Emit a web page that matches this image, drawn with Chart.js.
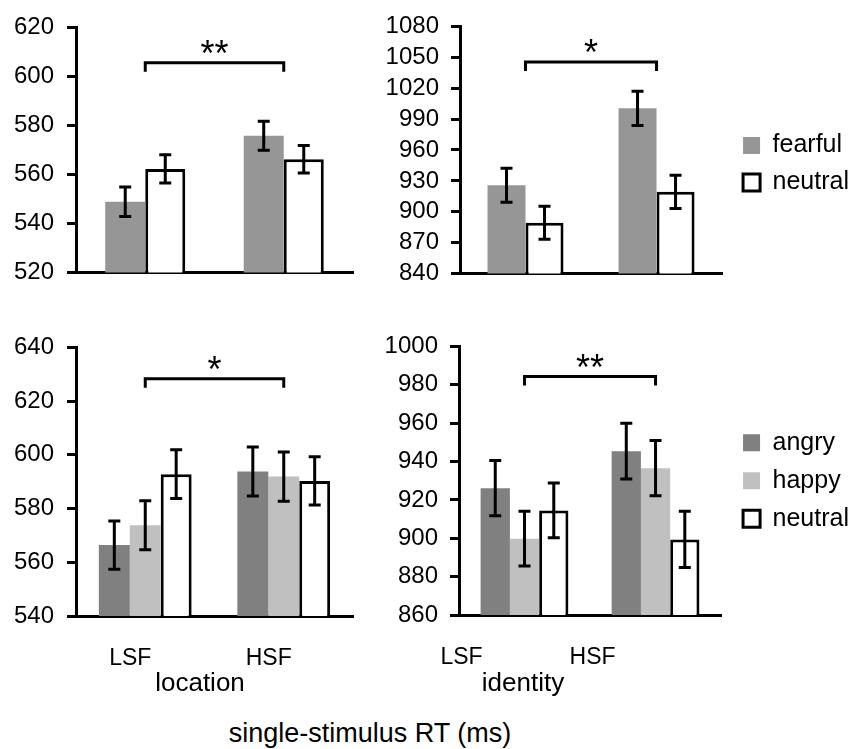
<!DOCTYPE html>
<html>
<head>
<meta charset="utf-8">
<script src="https://cdn.jsdelivr.net/npm/chart.js@4.4.1/dist/chart.umd.min.js"></script>
<style>
html, body { margin: 0; padding: 0; background: #fff; overflow: hidden; }
body { width: 852px; height: 749px; position: relative; font-family: "Liberation Sans", Arial, sans-serif; }
canvas { position: absolute; }
.cap { position: absolute; transform: translate(-50%, -50%); white-space: nowrap; color: #000; line-height: 1; }
</style>
</head>
<body>
<canvas id="locEmo" width="365" height="300" style="left:0;top:0"></canvas>
<!-- right-hand charts use a wide canvas so the legend is not squeezed -->
<canvas id="idEmo" width="800" height="300" style="left:59px;top:0"></canvas>
<canvas id="locExp" width="365" height="360" style="left:0;top:320px"></canvas>
<canvas id="idExp" width="800" height="360" style="left:59px;top:320px"></canvas>
<div class="cap" style="left:200px;top:682px;font-size:26px">location</div>
<div class="cap" style="left:523px;top:682px;font-size:26px">identity</div>
<div class="cap" style="left:370px;top:733px;font-size:27px">single-stimulus RT (ms)</div>
<script>
// categories
const freqs = ['LSF', 'HSF'];

// top row: fearful vs neutral
const locFearful = [548.9, 575.8];
const locFearfulErr = [6.0, 5.9];
const locNeutral = [562.3, 566.2];
const locNeutralErr = [5.8, 5.6];
const idFearful = [925.8, 1000.5];
const idFearfulErr = [16.5, 16.6];
const idNeutral = [889.3, 919.4];
const idNeutralErr = [16.0, 16.2];

// bottom row: angry / happy / neutral
const locAngry = [566.4, 593.8];
const locAngryErr = [9.0, 9.1];
const locHappy = [573.8, 591.9];
const locHappyErr = [9.1, 9.2];
const locNeutral3 = [592.8, 590.3];
const locNeutral3Err = [9.1, 9.0];
const idAngry = [926.1, 945.4];
const idAngryErr = [14.4, 14.5];
const idHappy = [899.8, 936.5];
const idHappyErr = [14.3, 14.4];
const idNeutral3 = [914.5, 899.4];
const idNeutral3Err = [14.3, 14.7];

// y tick labels
const locEmoTicks = [520, 540, 560, 580, 600, 620];
const idEmoTicks = [840, 870, 900, 930, 960, 990, 1020, 1050, 1080];
const locExpTicks = [540, 560, 580, 600, 620, 640];
const idExpTicks = [860, 880, 900, 920, 940, 960, 980, 1000];

// significance brackets LSF vs HSF
const sigText = ['**', '*', '*', '**'];
const sigAt = [605.6, 1045.5, 628.3, 984.3];

Chart.defaults.font.family = '"Liberation Sans", Arial, sans-serif';
Chart.defaults.color = '#000';

// error bars from dataset.errors
const errorBars = {
    id: 'errorBars',
    afterDatasetsDraw(chart) {
        const ctx = chart.ctx;
        const y = chart.scales.y;
        ctx.save();
        ctx.strokeStyle = '#000';
        ctx.lineWidth = 3;
        chart.data.datasets.forEach((ds, i) => {
            chart.getDatasetMeta(i).data.forEach((bar, j) => {
                const top = y.getPixelForValue(ds.data[j] + ds.errors[j]);
                const bot = y.getPixelForValue(ds.data[j] - ds.errors[j]);
                ctx.beginPath();
                ctx.moveTo(bar.x, top); ctx.lineTo(bar.x, bot);
                ctx.moveTo(bar.x - 6, top); ctx.lineTo(bar.x + 6, top);
                ctx.moveTo(bar.x - 6, bot); ctx.lineTo(bar.x + 6, bot);
                ctx.stroke();
            });
        });
        ctx.restore();
    }
};

// bracket with stars between the two categories
const sigBracket = {
    id: 'sigBracket',
    afterDatasetsDraw(chart, args, opts) {
        const ctx = chart.ctx;
        const x0 = chart.scales.x.getPixelForValue(0);
        const x1 = chart.scales.x.getPixelForValue(1);
        const yb = chart.scales.y.getPixelForValue(opts.value);
        ctx.save();
        ctx.strokeStyle = '#000';
        ctx.lineWidth = 3;
        ctx.beginPath();
        ctx.moveTo(x0, yb + 9);
        ctx.lineTo(x0, yb);
        ctx.lineTo(x1, yb);
        ctx.lineTo(x1, yb + 9);
        ctx.stroke();
        ctx.fillStyle = '#000';
        ctx.font = '36px "Liberation Sans", Arial, sans-serif';
        ctx.textAlign = 'center';
        ctx.textBaseline = 'alphabetic';
        ctx.fillText(opts.text, (x0 + x1) / 2, yb + 3);
        ctx.restore();
    }
};

function yAxis(ticksArr, width, pad) {
    return {
        min: ticksArr[0],
        max: ticksArr[ticksArr.length - 1],
        afterBuildTicks: s => { s.ticks = ticksArr.map(v => ({ value: v })); },
        afterFit: s => { s.width = width; },
        ticks: { font: { size: 24 }, padding: pad, color: '#000', callback: v => String(v) },
        grid: { drawOnChartArea: false, drawTicks: true, tickLength: 9, tickWidth: 3, tickColor: '#000' },
        border: { display: true, width: 3, color: '#000' }
    };
}

function xAxis(showLabels, labelOffset, height) {
    return {
        afterFit: s => { s.height = height; },
        grid: { drawOnChartArea: false, drawTicks: false },
        border: { display: true, width: 3, color: '#000' },
        ticks: { display: showLabels, font: { size: 23 }, padding: 29, labelOffset: labelOffset, color: '#000' }
    };
}

// invisible spacer between chart area and legend
const spacer = {
    position: 'right',
    display: true,
    afterFit: s => { s.width = 9; },
    grid: { display: false, drawTicks: false },
    border: { display: false },
    ticks: { display: false }
};

function bar(label, data, errors, fill, outlined) {
    return {
        label: label,
        data: data,
        errors: errors,
        backgroundColor: fill,
        borderColor: '#000',
        borderWidth: outlined ? 3 : 0
    };
}

function makeChart(id, datasets, cfg) {
    const scales = { x: cfg.x, y: cfg.y };
    if (cfg.legend) scales.gap = spacer;
    return new Chart(document.getElementById(id), {
        type: 'bar',
        data: { labels: freqs, datasets: datasets },
        options: {
            responsive: false,
            animation: false,
            categoryPercentage: cfg.catPct,
            barPercentage: 1,
            layout: { padding: cfg.padding },
            scales: scales,
            plugins: {
                tooltip: { enabled: false },
                legend: {
                    display: !!cfg.legend,
                    position: 'right',
                    fullSize: false,
                    // empty title only pushes the entries down a little
                    title: { display: !!cfg.legendDrop, text: '', padding: 0, font: { size: cfg.legendDrop || 12, lineHeight: 1 } },
                    labels: { font: { size: 25 }, boxWidth: 17, boxHeight: 17, padding: cfg.legendPad || 12, color: '#000' }
                },
                sigBracket: cfg.sig
            }
        },
        plugins: [errorBars, sigBracket]
    });
}

makeChart('locEmo', [
    bar('fearful', locFearful, locFearfulErr, '#969696', false),
    bar('neutral', locNeutral, locNeutralErr, '#ffffff', true)
], {
    x: xAxis(false, 0, 2),
    y: yAxis(locEmoTicks, 76, 13),
    catPct: 0.578,
    padding: { top: 20, right: 12, bottom: 1, left: 0 },
    sig: { text: sigText[0], value: sigAt[0] }
});

makeChart('idEmo', [
    bar('fearful', idFearful, idFearfulErr, '#969696', false),
    bar('neutral', idNeutral, idNeutralErr, '#ffffff', true)
], {
    x: xAxis(false, 0, 2),
    y: yAxis(idEmoTicks, 401, 12),
    catPct: 0.58,
    legend: true,
    legendPad: 12,
    legendDrop: 28,
    padding: { top: 21, right: 0, bottom: 2.5, left: 0 },
    sig: { text: sigText[1], value: sigAt[1] }
});

makeChart('locExp', [
    bar('angry', locAngry, locAngryErr, '#808080', false),
    bar('happy', locHappy, locHappyErr, '#c0c0c0', false),
    bar('neutral', locNeutral3, locNeutral3Err, '#ffffff', true)
], {
    x: xAxis(true, -15, 60),
    y: yAxis(locExpTicks, 76, 13),
    catPct: 0.67,
    padding: { top: 20, right: 12, bottom: 4, left: 0 },
    sig: { text: sigText[2], value: sigAt[2] }
});

makeChart('idExp', [
    bar('angry', idAngry, idAngryErr, '#808080', false),
    bar('happy', idHappy, idHappyErr, '#c0c0c0', false),
    bar('neutral', idNeutral3, idNeutral3Err, '#ffffff', true)
], {
    x: xAxis(true, -63, 60),
    y: yAxis(idExpTicks, 400, 12),
    catPct: 0.67,
    legend: true,
    legendPad: 13,
    padding: { top: 21.7, right: 0, bottom: 5, left: 0 },
    sig: { text: sigText[3], value: sigAt[3] }
});
</script>
</body>
</html>
